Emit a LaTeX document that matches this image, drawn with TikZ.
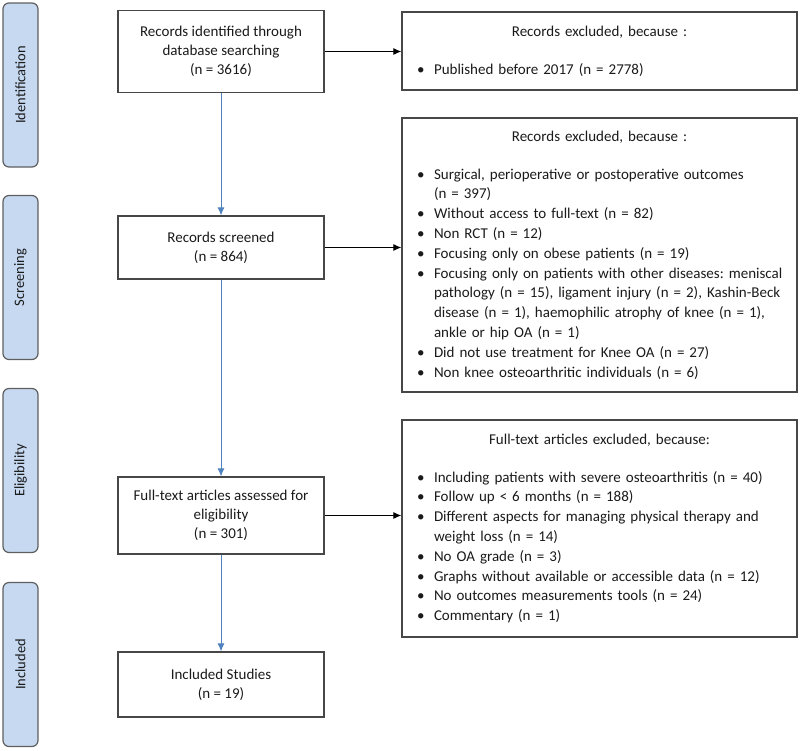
\documentclass[tikz,border=0pt]{standalone}
\usepackage{fontspec}
\setmainfont{Carlito}
\usepackage{xcolor}
\usetikzlibrary{arrows.meta,positioning}

\definecolor{phasefill}{HTML}{C6D9F1}
\definecolor{phaseline}{HTML}{5F5F5F}
\definecolor{boxline}{HTML}{474747}
\definecolor{flowblue}{HTML}{4F81BD}
\definecolor{txtcol}{HTML}{1A1A1A}

\newcommand{\bitem}[1]{\par\noindent\hangindent=24pt\hangafter=1\makebox[24pt][l]{\hspace{7pt}\textbullet}#1}
\frenchspacing

\begin{document}
\begin{tikzpicture}[x=1pt,y=-1pt,
	phase/.style={draw=phaseline,line width=1.2pt,fill=phasefill,rounded corners=6pt,rotate=90,minimum width=164pt,minimum height=35pt,inner sep=0pt,font=\fontsize{14.5}{17}\selectfont,text=txtcol},
	stagebox/.style={draw=boxline,line width=1.3pt,minimum width=206pt,align=center,font=\fontsize{15}{19}\selectfont,text=txtcol,inner sep=0pt},
	exbox/.style={draw=boxline,line width=1.3pt,text width=379pt,inner xsep=8pt,inner ysep=0pt,font=\fontsize{15}{19.8}\selectfont,text=txtcol},
	sidearrow/.style={-{Latex[length=8pt,width=7pt]},line width=1.1pt,draw=black},
	downarrow/.style={-{Latex[length=8pt,width=7pt]},line width=0.9pt,draw=flowblue,fill=flowblue}]
	\useasboundingbox (0,0) rectangle (800,750);
	
	\node[phase] (idp) at (20.5,85) {Identification};
	\node[phase] (scp) at (20.5,277.5) {Screening};
	\node[phase] (elp) at (20.5,470.5) {Eligibility};
	\node[phase] (inp) at (20.5,664.5) {Included};
	
	\node[stagebox,minimum height=82pt] (ident) at (221,51.5) {Records identified through\\database searching\\(n = 3616)};
	\node[stagebox,minimum height=63pt] (screen) at (221,247.5) {Records screened\\(n = 864)};
	\node[stagebox,minimum height=77pt] (full) at (221,515.5) {Full-text articles assessed for\\eligibility\\(n = 301)};
	\node[stagebox,minimum height=65pt] (incl) at (221,684.5) {Included Studies\\(n = 19)};
	
	\node[exbox,minimum height=78pt] (ex1) at (599.5,51) {{\centering Records excluded, because :\par}\vspace{18pt}\raggedright
		\bitem{Published before 2017 (n = 2778)}};
	\node[exbox,minimum height=274pt] (ex2) at (599.5,255) {{\centering Records excluded, because :\par}\vspace{18pt}\raggedright
		\bitem{Surgical, perioperative or postoperative outcomes\newline (n = 397)}
		\bitem{Without access to full-text (n = 82)}
		\bitem{Non RCT (n = 12)}
		\bitem{Focusing only on obese patients (n = 19)}
		\bitem{Focusing only on patients with other diseases: meniscal\newline pathology (n = 15), ligament injury (n = 2), Kashin-Beck\newline disease (n = 1), haemophilic atrophy of knee (n = 1),\newline ankle or hip OA (n = 1)}
		\bitem{Did not use treatment for Knee OA (n = 27)}
		\bitem{Non knee osteoarthritic individuals (n = 6)}};
	\node[exbox,minimum height=217pt] (ex3) at (599.5,528.5) {{\centering Full-text articles excluded, because:\par}\vspace{18pt}\raggedright
		\bitem{Including patients with severe osteoarthritis (n = 40)}
		\bitem{Follow up < 6 months (n = 188)}
		\bitem{Different aspects for managing physical therapy and\newline weight loss (n = 14)}
		\bitem{No OA grade (n = 3)}
		\bitem{Graphs without available or accessible data (n = 12)}
		\bitem{No outcomes measurements tools (n = 24)}
		\bitem{Commentary (n = 1)}};
	
	\draw[downarrow] (ident) -- (screen);
	\draw[downarrow] (screen) -- (full);
	\draw[downarrow] (full) -- (incl);
	\draw[sidearrow] (ident.east) -- (ident.east -| ex1.west);
	\draw[sidearrow] (screen.east) -- (screen.east -| ex2.west);
	\draw[sidearrow] (full.east) -- (full.east -| ex3.west);
\end{tikzpicture}
\end{document}
